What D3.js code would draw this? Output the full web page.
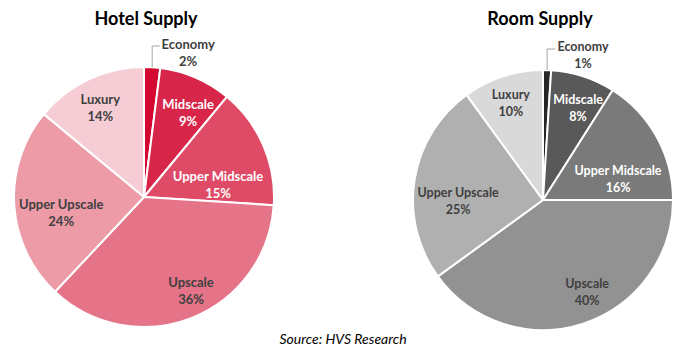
<!DOCTYPE html>
<html>
<head>
<meta charset="utf-8">
<script src="https://cdn.jsdelivr.net/npm/d3@7"></script>
<style>
  html, body { margin: 0; padding: 0; background: #fff; }
  svg { display: block; }
  text { font-family: Lato, "Open Sans", sans-serif; }
</style>
</head>
<body>
<svg id="chart" width="700" height="356"></svg>
<script>
// ---- Data ----
const categories = ["Economy", "Midscale", "Upper Midscale", "Upscale", "Upper Upscale", "Luxury"];
const hotelValues = [2, 9, 15, 36, 24, 14];
const roomValues = [1, 8, 16, 40, 25, 10];
const chartTitles = ["Hotel Supply", "Room Supply"];
const sourceText = "Source: HVS Research";

// ---- Styles / layout ----
const hotelColors = ["#d3072f", "#d8254a", "#df4b67", "#e57489", "#ec9ba7", "#f6cdd4"];
const roomColors = ["#262626", "#595959", "#7a7a7a", "#929292", "#b0b0b0", "#d9d9d9"];
const hotelLabelColors = ["#404040", "#ffffff", "#ffffff", "#404040", "#404040", "#404040"];
const roomLabelColors = ["#404040", "#ffffff", "#ffffff", "#404040", "#404040", "#404040"];
// label nudges relative to arc centroid (Excel best-fit placement)
const hotelNudge = [[0,0],[8,-1],[-9.5,23.5],[13.5,9],[8,9.5],[-5,-7]];
const roomNudge = [[0,0],[7,-5],[-4.7,23.3],[16,5],[5,15],[-4,-10]];

const svg = d3.select("#chart");

const charts = [
  { title: chartTitles[0], values: hotelValues, colors: hotelColors, labelColors: hotelLabelColors,
    nudge: hotelNudge, cx: 144, cy: 197, r: 130, titleX: 146, fontSize: 13 },
  { title: chartTitles[1], values: roomValues, colors: roomColors, labelColors: roomLabelColors,
    nudge: roomNudge, cx: 543, cy: 200, r: 130, titleX: 540, fontSize: 12.5 }
];

charts.forEach(c => {
  svg.append("text")
    .attr("x", c.titleX).attr("y", 25)
    .attr("text-anchor", "middle")
    .attr("font-size", 18).attr("font-weight", "bold")
    .attr("fill", "#000")
    .text(c.title);

  const data = categories.map((name, i) => ({ name, value: c.values[i], i }));
  const pie = d3.pie().value(d => d.value).sort(null);
  const arcs = pie(data);
  const arc = d3.arc().innerRadius(0).outerRadius(c.r);
  const labelArc = d3.arc().innerRadius(c.r * 0.7).outerRadius(c.r * 0.7);

  const g = svg.append("g").attr("transform", `translate(${c.cx},${c.cy})`);

  g.selectAll("path").data(arcs).enter().append("path")
    .attr("d", arc)
    .attr("fill", d => c.colors[d.data.i])
    .attr("stroke", "#fff").attr("stroke-width", 2).attr("stroke-linejoin", "round");

  arcs.forEach(d => {
    const i = d.data.i;
    let x, y;
    if (i === 0) {
      // outside label with leader line
      const mid = (d.startAngle + d.endAngle) / 2;
      const ex = Math.sin(mid) * c.r, ey = -Math.cos(mid) * c.r;
      const topY = -c.r - 21;
      g.append("polyline")
        .attr("points", `${ex},${ey} ${ex},${topY} ${ex + 8},${topY}`)
        .attr("fill", "none").attr("stroke", "#a6a6a6").attr("stroke-width", 1);
      x = ex + 36; y = -c.r - 15;
    } else {
      const [lx, ly] = labelArc.centroid(d);
      x = lx + c.nudge[i][0]; y = ly + c.nudge[i][1];
    }
    const t = g.append("text")
      .attr("text-anchor", "middle")
      .attr("font-size", c.fontSize).attr("font-weight", "bold")
      .attr("fill", c.labelColors[i]);
    t.append("tspan").attr("x", x).attr("y", y - 8.5).attr("dominant-baseline", "central").text(d.data.name);
    t.append("tspan").attr("x", x).attr("y", y + 8.5).attr("dominant-baseline", "central").text(d.data.value + "%");
  });
});

svg.append("text")
  .attr("x", 343).attr("y", 344)
  .attr("text-anchor", "middle")
  .attr("font-size", 14).attr("font-style", "italic")
  .attr("fill", "#000")
  .text(sourceText);
</script>
</body>
</html>
